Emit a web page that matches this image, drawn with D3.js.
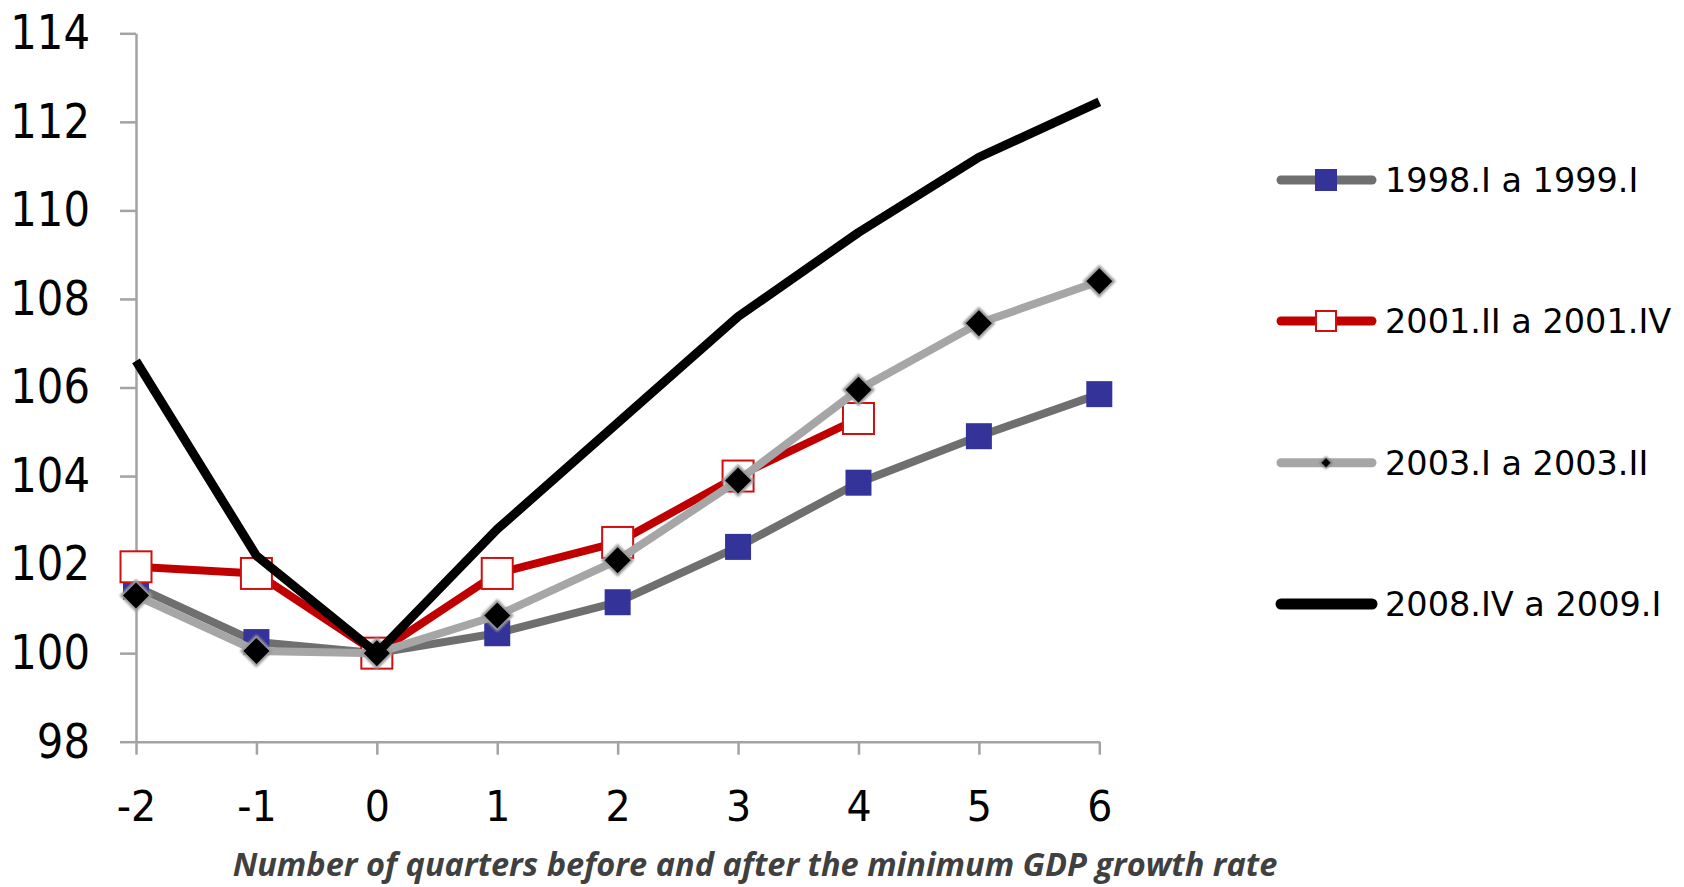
<!DOCTYPE html>
<html>
<head>
<meta charset="utf-8">
<script src="https://cdn.jsdelivr.net/npm/d3@7"></script>
<style>
  html, body { margin: 0; padding: 0; background: #ffffff; }
  svg { display: block; }
</style>
</head>
<body>
<svg id="chart" width="1684" height="887"></svg>
<script>
// Quarters relative to the trough in GDP growth
const quarters = [-2, -1, 0, 1, 2, 3, 4, 5, 6];
const yTicks = [98, 100, 102, 104, 106, 108, 110, 112, 114];

// GDP index (trough quarter = 100) for each episode
const series1998 = [101.5, 100.25, 100, 100.45, 101.15, 102.4, 103.85, 104.9, 105.85];
const series2001 = [101.95, 101.8, 100, 101.8, 102.5, 104.0, 105.3];
const series2003 = [101.3, 100.05, 100, 100.85, 102.1, 103.9, 105.95, 107.45, 108.4];
const series2008 = [106.6, 102.2, 100, 102.8, 105.2, 107.6, 109.5, 111.2, 112.45];

const seriesNames = ["1998.I a 1999.I", "2001.II a 2001.IV", "2003.I a 2003.II", "2008.IV a 2009.I"];
const xTitle = "Number of quarters before and after the minimum GDP growth rate";

const svg = d3.select("#chart");
const W = 1684, H = 887;
svg.append("rect").attr("width", W).attr("height", H).attr("fill", "#ffffff");

const plot = { left: 136, right: 1099.3, top: 33.3, bottom: 741.7 };

const x = d3.scaleLinear().domain([-2, 6]).range([plot.left, plot.right]);
const y = d3.scaleLinear().domain([98, 114]).range([plot.bottom, plot.top]);

const tickFont = "'DejaVu Sans', Verdana, sans-serif";
const axisColor = "#a3a3a3";

// Narrow a text element horizontally by a factor, keeping its anchor
function narrow(sel, k) {
  sel.each(function () {
    const len = this.getComputedTextLength();
    d3.select(this).attr("textLength", len * k).attr("lengthAdjust", "spacingAndGlyphs");
  });
}

// Y axis
const yAxis = svg.append("g")
  .attr("transform", `translate(${plot.left},0)`)
  .call(d3.axisLeft(y).tickValues(yTicks).tickSize(16).tickSizeOuter(0).tickPadding(30));
yAxis.selectAll("text")
  .attr("font-family", tickFont).attr("font-size", 48).attr("fill", "#000")
  .call(narrow, 0.87);

// X axis
const xAxis = svg.append("g")
  .attr("transform", `translate(0,${plot.bottom})`)
  .call(d3.axisBottom(x).tickValues(quarters).tickSize(13).tickSizeOuter(0).tickFormat(d => String(d)));
xAxis.selectAll("text")
  .attr("font-family", tickFont).attr("font-size", 43).attr("fill", "#000")
  .attr("y", 79).attr("dy", 0)
  .call(narrow, 0.92);

[yAxis, xAxis].forEach(g => {
  g.select(".domain").attr("stroke", axisColor).attr("stroke-width", 2.5);
  g.selectAll(".tick line").attr("stroke", axisColor).attr("stroke-width", 2.5);
});

// Axis title
const title = svg.append("text")
  .attr("x", 755).attr("y", 876)
  .attr("text-anchor", "middle")
  .attr("font-family", "'Open Sans', 'Noto Sans', sans-serif")
  .attr("font-weight", "bold").attr("font-style", "italic")
  .attr("font-size", 32).attr("fill", "#404040")
  .text(xTitle);
const tw = title.node().getComputedTextLength();
title.attr("font-size", 32 * 1045 / tw);

// Soft grey halo used around the diamond markers
const defs = svg.append("defs");
defs.append("filter").attr("id", "soft")
  .attr("x", "-30%").attr("y", "-30%").attr("width", "160%").attr("height", "160%")
  .append("feGaussianBlur").attr("stdDeviation", 1.2);

const line = d3.line().x((d, i) => x(quarters[i])).y(d => y(d));

const layer = svg.append("g");

// 1998.I a 1999.I : dark grey line, blue squares
layer.append("path").datum(series1998).attr("d", line)
  .attr("fill", "none").attr("stroke", "#6f6f6f").attr("stroke-width", 8).attr("stroke-linejoin", "round");
layer.selectAll(".sq98").data(series1998).enter().append("rect")
  .attr("x", (d, i) => x(quarters[i]) - 13).attr("y", d => y(d) - 13)
  .attr("width", 26).attr("height", 26).attr("fill", "#333399");

// 2001.II a 2001.IV : red line, hollow squares
layer.append("path").datum(series2001).attr("d", line)
  .attr("fill", "none").attr("stroke", "#c00000").attr("stroke-width", 8).attr("stroke-linejoin", "round");
layer.selectAll(".sq01").data(series2001).enter().append("rect")
  .attr("x", (d, i) => x(quarters[i]) - 15.5).attr("y", d => y(d) - 15.5)
  .attr("width", 31).attr("height", 31)
  .attr("fill", "#ffffff").attr("stroke", "#d01010").attr("stroke-width", 2);

// 2003.I a 2003.II : light grey line, black diamonds
layer.append("path").datum(series2003).attr("d", line)
  .attr("fill", "none").attr("stroke", "#a6a6a6").attr("stroke-width", 8).attr("stroke-linejoin", "round");
const diamond = r => `M0,${-r}L${r},0L0,${r}L${-r},0Z`;
const dia = layer.selectAll(".dia03").data(series2003).enter().append("g")
  .attr("transform", (d, i) => `translate(${x(quarters[i])},${y(d)})`);
dia.append("path").attr("d", diamond(16.5)).attr("fill", "#9a9a9a").attr("filter", "url(#soft)");
dia.append("path").attr("d", diamond(13)).attr("fill", "#000000");

// 2008.IV a 2009.I : black line
layer.append("path").datum(series2008).attr("d", line)
  .attr("fill", "none").attr("stroke", "#000000").attr("stroke-width", 9).attr("stroke-linejoin", "round");

// Legend
const legendY = [180, 321, 462.7, 604];
const legend = svg.append("g");
const legendStyles = [
  { stroke: "#6f6f6f", width: 9 },
  { stroke: "#c00000", width: 9 },
  { stroke: "#a6a6a6", width: 9 },
  { stroke: "#000000", width: 11 }
];
seriesNames.forEach((name, i) => {
  const g = legend.append("g").attr("transform", `translate(0,${legendY[i]})`);
  g.append("line").attr("x1", 1281).attr("x2", 1372).attr("y1", 0).attr("y2", 0)
    .attr("stroke", legendStyles[i].stroke).attr("stroke-width", legendStyles[i].width)
    .attr("stroke-linecap", "round");
  if (i === 0) {
    g.append("rect").attr("x", 1326 - 11).attr("y", -11).attr("width", 22).attr("height", 22).attr("fill", "#333399");
  } else if (i === 1) {
    g.append("rect").attr("x", 1326 - 10).attr("y", -10).attr("width", 20).attr("height", 20)
      .attr("fill", "#ffffff").attr("stroke", "#d01010").attr("stroke-width", 2);
  } else if (i === 2) {
    g.append("path").attr("transform", "translate(1326,0)").attr("d", diamond(6.5)).attr("fill", "#777").attr("filter", "url(#soft)");
    g.append("path").attr("transform", "translate(1326,0)").attr("d", diamond(4.5)).attr("fill", "#000");
  }
  g.append("text").attr("x", 1385).attr("y", 0).attr("dy", "0.36em")
    .attr("font-family", "'DejaVu Sans', Verdana, sans-serif").attr("font-size", 33.5)
    .attr("fill", "#000").text(name);
});
</script>
</body>
</html>
